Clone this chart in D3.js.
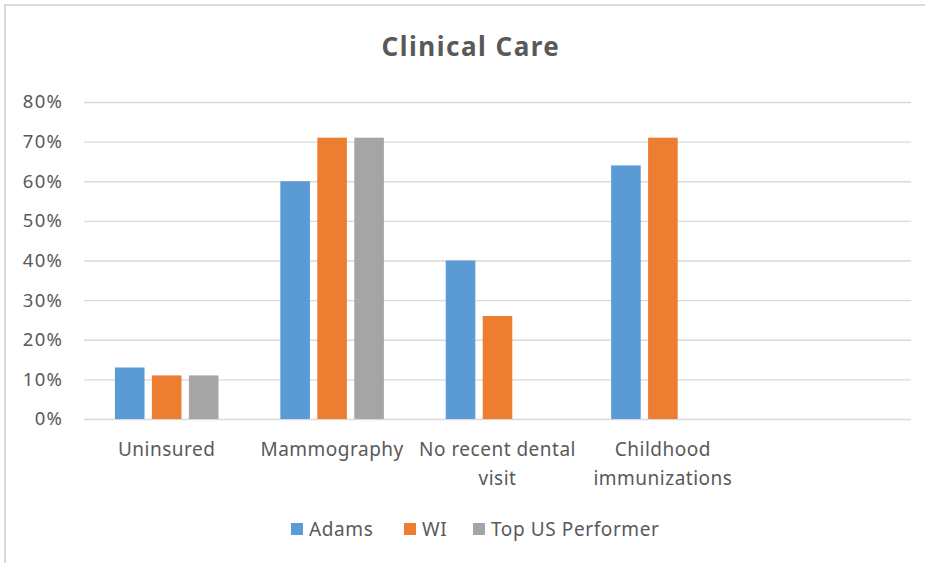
<!DOCTYPE html>
<html>
<head>
<meta charset="utf-8">
<script src="https://cdn.jsdelivr.net/npm/d3@7"></script>
<style>
  html, body { margin: 0; padding: 0; background: #fff; }
  svg { display: block; font-family: "Noto Sans", "Open Sans", sans-serif; }
</style>
</head>
<body>
<svg id="chart" width="925" height="563"></svg>
<script>
const categories = ["Uninsured", "Mammography", "No recent dental visit", "Childhood immunizations", ""];
const seriesNames = ["Adams", "WI", "Top US Performer"];
const adams = [0.13, 0.60, 0.40, 0.64, null];
const wi = [0.11, 0.71, 0.26, 0.71, null];
const topUS = [0.11, 0.71, null, null, null];
const seriesValues = [adams, wi, topUS];
const seriesColors = ["#5B9BD5", "#ED7D31", "#A5A5A5"];
const yTicks = [0, 0.1, 0.2, 0.3, 0.4, 0.5, 0.6, 0.7, 0.8];
const title = "Clinical Care";

const svg = d3.select("#chart");
const W = 925, H = 563;
const plot = { left: 84, right: 911, top: 102, bottom: 419 };
const textColor = "#595959";

// frame (top and left edges visible)
svg.append("line").attr("x1", 4).attr("x2", W).attr("y1", 5).attr("y2", 5)
  .attr("stroke", "#d9d9d9").attr("stroke-width", 2);
svg.append("line").attr("x1", 5).attr("x2", 5).attr("y1", 4).attr("y2", H)
  .attr("stroke", "#d9d9d9").attr("stroke-width", 2);

const y = d3.scaleLinear().domain([0, 0.8]).range([plot.bottom, plot.top]);
const x0 = d3.scaleBand().domain(d3.range(categories.length))
  .range([plot.left, plot.right]).paddingInner(0.374).paddingOuter(0.187);
const x1 = d3.scaleBand().domain(d3.range(seriesNames.length))
  .range([0, x0.bandwidth()]).paddingInner(0.2);

// gridlines
const yAxis = d3.axisLeft(y).tickValues(yTicks).tickFormat(d3.format(".0%"))
  .tickSize(-(plot.right - plot.left)).tickPadding(22);
const gy = svg.append("g").attr("transform", `translate(${plot.left},0)`).call(yAxis);
gy.select(".domain").remove();
gy.selectAll(".tick line").attr("stroke", "#d9d9d9").attr("stroke-width", 1.3);
gy.selectAll(".tick text").attr("fill", textColor).attr("font-size", 18.5)
  .attr("letter-spacing", 1.2).attr("dx", 1)
  .attr("font-family", "'Noto Sans', sans-serif");

// bars
seriesValues.forEach((vals, si) => {
  svg.append("g").selectAll("rect")
    .data(vals.map((v, i) => ({ v, i })).filter(d => d.v != null))
    .join("rect")
    .attr("x", d => x0(d.i) + x1(si))
    .attr("width", x1.bandwidth())
    .attr("y", d => y(d.v))
    .attr("height", d => y(0) - y(d.v))
    .attr("fill", seriesColors[si]);
});

// category labels with wrapping
const step = x0.step();
const catG = svg.append("g");
categories.forEach((c, i) => {
  if (!c) return;
  const cx = x0(i) + x0.bandwidth() / 2;
  const t = catG.append("text").attr("x", cx).attr("y", 456)
    .attr("text-anchor", "middle").attr("fill", textColor).attr("font-size", 19)
    .attr("letter-spacing", 0.5);
  const words = c.split(" ");
  let line = [], lines = [];
  const measure = catG.append("text").attr("font-size", 19).attr("letter-spacing", 0.5)
    .attr("visibility", "hidden");
  words.forEach(w => {
    const test = line.concat([w]).join(" ");
    measure.text(test);
    if (measure.node().getComputedTextLength() > step - 4 && line.length) {
      lines.push(line.join(" "));
      line = [w];
    } else line.push(w);
  });
  lines.push(line.join(" "));
  measure.remove();
  lines.forEach((l, li) => {
    t.append("tspan").attr("x", cx).attr("dy", li === 0 ? 0 : 29).text(l);
  });
});

// title
svg.append("text").attr("x", 471).attr("y", 56).attr("text-anchor", "middle")
  .attr("fill", textColor).attr("font-size", 26).attr("font-weight", "bold")
  .attr("letter-spacing", 1.5).text(title);

// legend
const legendX = [291, 404, 473];
const leg = svg.append("g");
seriesNames.forEach((s, i) => {
  leg.append("rect").attr("x", legendX[i]).attr("y", 523).attr("width", 12).attr("height", 12)
    .attr("fill", seriesColors[i]);
  leg.append("text").attr("x", legendX[i] + 18).attr("y", 536).attr("fill", textColor)
    .attr("font-size", 19).attr("letter-spacing", 0.6).text(s);
});
</script>
</body>
</html>
